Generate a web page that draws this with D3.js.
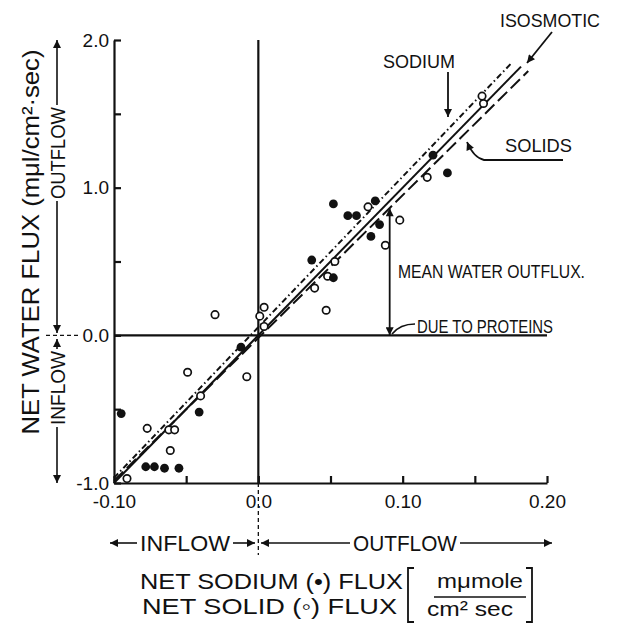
<!DOCTYPE html>
<html lang="en">
<head>
<meta charset="UTF-8">
<title>Net water flux vs net sodium / solid flux</title>
<script src="https://cdn.jsdelivr.net/npm/d3@7"></script>
<style>
    body { margin: 0; background: #fff; }
    svg text { font-family: "Liberation Sans", Arial, sans-serif; fill: #111; }
    .axis path, .axis line { stroke: #111; stroke-width: 2.2; fill: none; }
    .axis text { font-size: 19px; font-family: "Liberation Sans", Arial, sans-serif; }
</style>
</head>
<body>
<script>
// values
var sodiumX = [-0.095, -0.078, -0.072, -0.065, -0.055, -0.041, -0.012, 0.037, 0.052, 0.052,
               0.062, 0.068, 0.078, 0.081, 0.084, 0.121, 0.131];
var sodiumY = [-0.53, -0.89, -0.89, -0.90, -0.90, -0.52, -0.08, 0.51, 0.89, 0.39,
               0.81, 0.81, 0.67, 0.91, 0.75, 1.22, 1.10];

var solidX = [-0.091, -0.077, -0.062, -0.058, -0.061, -0.049, -0.040, -0.030, -0.008, 0.001,
              0.004, 0.004, 0.039, 0.047, 0.048, 0.053, 0.076, 0.088, 0.098, 0.117, 0.155, 0.156];
var solidY = [-0.97, -0.63, -0.64, -0.64, -0.78, -0.25, -0.41, 0.14, -0.28, 0.13,
              0.19, 0.06, 0.32, 0.17, 0.40, 0.50, 0.87, 0.61, 0.78, 1.07, 1.62, 1.57];

// fitted lines: isosmotic (solid), sodium (dash-dot), solids (dashed)
var lineNames = ["isosmotic", "sodium", "solids"];
var lineX0 = [-0.10, -0.10, -0.10];
var lineY0 = [-1.00, -0.965, -0.985];
var lineX1 = [0.182, 0.176, 0.187];
var lineY1 = [1.82, 1.85, 1.79];

var xTicks = [-0.10, -0.05, 0, 0.05, 0.10, 0.15, 0.20];
var xTickLabels = ["-0.10", "", "0.0", "", "0.10", "", "0.20"];
var yTicks = [-1, -0.5, 0, 0.5, 1, 1.5, 2];
var yTickLabels = ["-1.0", "", "0.0", "", "1.0", "", "2.0"];

var proteinX = 0.091;          // "mean water outflux due to proteins"
var proteinY = [0, 0.86];

var width = 623, height = 624;
var svg = d3.select("body").append("svg")
        .attr("width", width)
        .attr("height", height);

var x = d3.scaleLinear().domain([-0.10, 0.20]).range([114, 547]);
var y = d3.scaleLinear().domain([-1, 2]).range([483, 40]);

var defs = svg.append("defs");
defs.append("marker")
        .attr("id", "ah")
        .attr("viewBox", "0 0 10 10")
        .attr("refX", 10).attr("refY", 5)
        .attr("markerWidth", 9).attr("markerHeight", 8)
        .attr("markerUnits", "userSpaceOnUse")
        .attr("orient", "auto-start-reverse")
        .append("path").attr("d", "M0,0L10,5L0,10Z").attr("fill", "#111");

// axes, ticks pointing into the plot
var xAxis = d3.axisBottom(x)
        .tickValues(xTicks)
        .tickFormat(function(d, i){ return xTickLabels[i]; })
        .tickSizeInner(-7).tickSizeOuter(0).tickPadding(12);
svg.append("g").attr("class", "axis")
        .attr("transform", "translate(0," + y(-1) + ")")
        .call(xAxis);

var yAxis = d3.axisLeft(y)
        .tickValues(yTicks)
        .tickFormat(function(d, i){ return yTickLabels[i]; })
        .tickSizeInner(-7).tickSizeOuter(0).tickPadding(5);
svg.append("g").attr("class", "axis")
        .attr("transform", "translate(" + x(-0.10) + ",0)")
        .call(yAxis);

// zero lines
svg.append("line").attr("x1", x(0)).attr("x2", x(0)).attr("y1", y(2)).attr("y2", y(-1))
        .attr("stroke", "#111").attr("stroke-width", 2.2);
svg.append("line").attr("x1", x(-0.10)).attr("x2", x(0.20)).attr("y1", y(0)).attr("y2", y(0))
        .attr("stroke", "#111").attr("stroke-width", 2.2);
// dashed extensions through the tick labels
svg.append("line").attr("x1", x(0)).attr("x2", x(0)).attr("y1", y(-1)).attr("y2", 555)
        .attr("stroke", "#111").attr("stroke-width", 1.3).attr("stroke-dasharray", "4,3");
svg.append("line").attr("x1", 46).attr("x2", 80).attr("y1", y(0)).attr("y2", y(0))
        .attr("stroke", "#111").attr("stroke-width", 1.3).attr("stroke-dasharray", "4,3");

// fitted lines
var dashes = {isosmotic: null, sodium: "6,3,1.5,3", solids: "13,5"};
svg.selectAll(".fit")
        .data(lineNames)
        .enter().append("line")
        .attr("class", "fit")
        .attr("x1", function(d, i){ return x(lineX0[i]); })
        .attr("y1", function(d, i){ return y(lineY0[i]); })
        .attr("x2", function(d, i){ return x(lineX1[i]); })
        .attr("y2", function(d, i){ return y(lineY1[i]); })
        .attr("stroke", "#111")
        .attr("stroke-width", 2)
        .attr("stroke-dasharray", function(d){ return dashes[d]; });

// protein outflux arrow
svg.append("line")
        .attr("x1", x(proteinX)).attr("x2", x(proteinX))
        .attr("y1", y(proteinY[1])).attr("y2", y(proteinY[0]))
        .attr("stroke", "#111").attr("stroke-width", 1.8)
        .attr("marker-start", "url(#ah)").attr("marker-end", "url(#ah)");

// points
svg.selectAll(".solid")
        .data(solidX)
        .enter().append("circle")
        .attr("class", "solid")
        .attr("cx", function(d){ return x(d); })
        .attr("cy", function(d, i){ return y(solidY[i]); })
        .attr("r", 3.7)
        .attr("fill", "#fff").attr("stroke", "#111").attr("stroke-width", 1.7);

svg.selectAll(".sodium")
        .data(sodiumX)
        .enter().append("circle")
        .attr("class", "sodium")
        .attr("cx", function(d){ return x(d); })
        .attr("cy", function(d, i){ return y(sodiumY[i]); })
        .attr("r", 4.4)
        .attr("fill", "#111");

// annotations
function label(txt, x0, yb, size, len, anchor) {
    return svg.append("text")
            .attr("x", x0).attr("y", yb)
            .attr("font-size", size)
            .attr("text-anchor", anchor || "start")
            .attr("textLength", len)
            .attr("lengthAdjust", "spacingAndGlyphs")
            .text(txt);
}
label("ISOSMOTIC", 500, 27, 18, 100);
label("SODIUM", 383, 68, 18, 72);
label("SOLIDS", 505, 152, 18, 67);
label("MEAN WATER OUTFLUX.", 398, 278, 19, 187);
label("DUE TO PROTEINS", 417, 333, 19, 136);

var arrows = [
    "M552,32L527,63",
    "M448,72L448,117"
];
svg.selectAll(".ann")
        .data(arrows)
        .enter().append("path")
        .attr("d", function(d){ return d; })
        .attr("fill", "none").attr("stroke", "#111").attr("stroke-width", 1.8)
        .attr("marker-end", "url(#ah)");
svg.append("path")
        .attr("d", "M563,160L484,160Q474,158 467,142")
        .attr("fill", "none").attr("stroke", "#111").attr("stroke-width", 1.8)
        .attr("marker-end", "url(#ah)");
svg.append("path")
        .attr("d", "M392,334Q400,324 415,324")
        .attr("fill", "none").attr("stroke", "#111").attr("stroke-width", 1.6);

// bottom INFLOW / OUTFLOW
var fy = 543;
function seg(x1, y1, x2, y2, start, end) {
    var l = svg.append("line").attr("x1", x1).attr("y1", y1).attr("x2", x2).attr("y2", y2)
            .attr("stroke", "#111").attr("stroke-width", 1.6);
    if (start) l.attr("marker-start", "url(#ah)");
    if (end) l.attr("marker-end", "url(#ah)");
}
seg(110, fy, 137, fy, true, false);
seg(233, fy, 255, fy, false, true);
seg(261, fy, 350, fy, true, false);
seg(460, fy, 552, fy, false, true);
label("INFLOW", 140, 551, 22, 90);
label("OUTFLOW", 353, 551, 22, 104);

label("NET SODIUM (•) FLUX", 140, 589, 22, 263);
label("NET SOLID (◦) FLUX", 142, 614, 22, 255);
label("mμmole", 437, 588, 21, 86);
label("cm² sec", 427, 616, 21, 86);
svg.append("line").attr("x1", 434).attr("x2", 526).attr("y1", 597).attr("y2", 597)
        .attr("stroke", "#111").attr("stroke-width", 1.6);
svg.append("path").attr("d", "M414,568H408V622H414")
        .attr("fill", "none").attr("stroke", "#111").attr("stroke-width", 1.8);
svg.append("path").attr("d", "M526,568H532V622H526")
        .attr("fill", "none").attr("stroke", "#111").attr("stroke-width", 1.8);

// left OUTFLOW / INFLOW
var fx = 57;
seg(fx, 40, fx, 105, true, false);
seg(fx, 201, fx, 333, false, true);
seg(fx, 339, fx, 349, true, false);
seg(fx, 427, fx, 483, false, true);
svg.append("text")
        .attr("transform", "translate(" + (fx + 8) + ",153) rotate(-90)")
        .attr("font-size", 21).attr("text-anchor", "middle")
        .attr("textLength", 92).attr("lengthAdjust", "spacingAndGlyphs")
        .text("OUTFLOW");
svg.append("text")
        .attr("transform", "translate(" + (fx + 8) + ",388) rotate(-90)")
        .attr("font-size", 21).attr("text-anchor", "middle")
        .attr("textLength", 74).attr("lengthAdjust", "spacingAndGlyphs")
        .text("INFLOW");

svg.append("text")
        .attr("transform", "translate(39,242) rotate(-90)")
        .attr("font-size", 24).attr("text-anchor", "middle")
        .attr("textLength", 385).attr("lengthAdjust", "spacingAndGlyphs")
        .text("NET WATER FLUX (mμl/cm²·sec)");
</script>
</body>
</html>
